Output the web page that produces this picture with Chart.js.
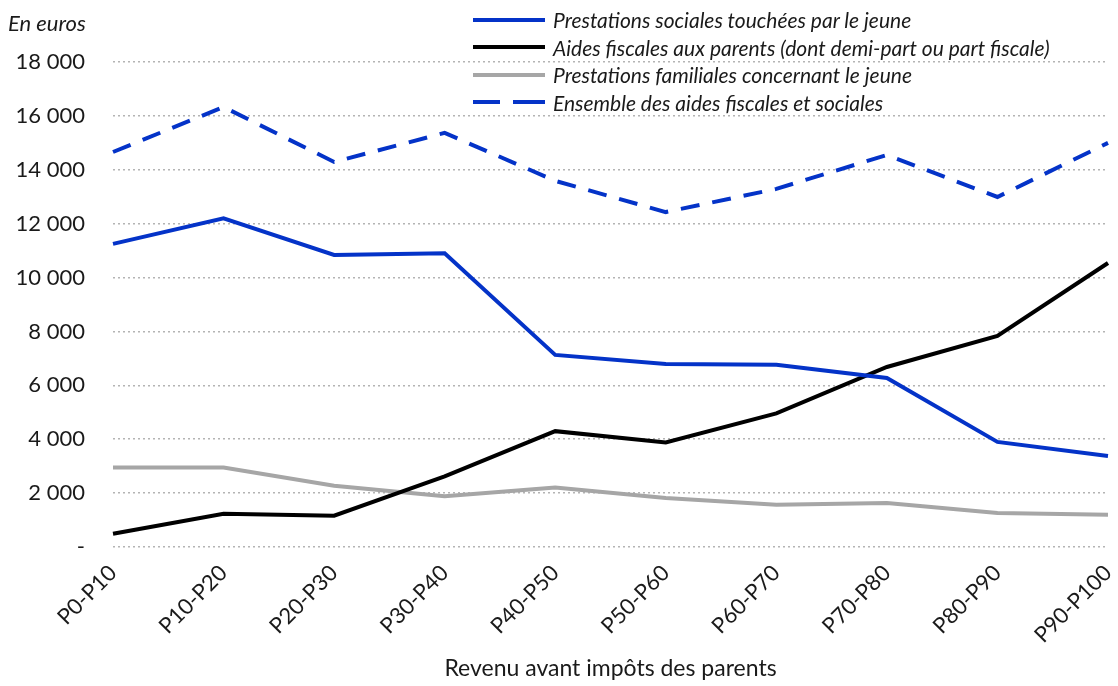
<!DOCTYPE html>
<html>
<head>
<meta charset="utf-8">
<script src="https://cdn.jsdelivr.net/npm/chart.js@4"></script>
<style>
  html, body { margin: 0; padding: 0; background: #fff; }
  #wrap { position: relative; width: 1118px; height: 686px; }
  #unit { position: absolute; left: 8px; top: 9px; font: italic 22px Lato, sans-serif; color: #1a1a1a; }
  #legend { position: absolute; left: 473px; top: 6px; font: italic 21px Lato, sans-serif; color: #1a1a1a; }
  .row { height: 27.5px; display: flex; align-items: center; }
  .sample { width: 72px; height: 4px; margin-right: 8px; position: relative; }
  .label { white-space: nowrap; }
</style>
</head>
<body>
<div id="wrap">
  <canvas id="chart" width="1118" height="686"></canvas>
  <div id="unit">En euros</div>
  <div id="legend"></div>
</div>
<script>
const categories = ['P0-P10', 'P10-P20', 'P20-P30', 'P30-P40', 'P40-P50', 'P50-P60', 'P60-P70', 'P70-P80', 'P80-P90', 'P90-P100']

const prestations_jeune = [11250, 12200, 10840, 10900, 7130, 6790, 6760, 6270, 3900, 3380]
const aides_fiscales = [490, 1230, 1160, 2620, 4300, 3880, 4960, 6680, 7830, 10540]
const prestations_familiales = [2950, 2950, 2270, 1880, 2210, 1815, 1570, 1630, 1260, 1200]
const ensemble = [14660, 16330, 14290, 15370, 13590, 12430, 13290, 14550, 12990, 15000]

const blue = '#0433c8'
const grey = '#a6a6a6'

const fmt = v => v === 0 ? '-' : String(v).replace(/\B(?=(\d{3})+(?!\d))/g, ' ')

const datasets = [{
    label: 'Prestations sociales touchées par le jeune',
    data: prestations_jeune,
    borderColor: blue
}, {
    label: 'Aides fiscales aux parents (dont demi-part ou part fiscale)',
    data: aides_fiscales,
    borderColor: '#000'
}, {
    label: 'Prestations familiales concernant le jeune',
    data: prestations_familiales,
    borderColor: grey
}, {
    label: 'Ensemble des aides fiscales et sociales',
    data: ensemble,
    borderColor: blue,
    borderDash: [19, 13]
}]

const config = {
    type: 'line',
    data: {
        labels: categories,
        datasets: datasets.map(d => Object.assign({ pointRadius: 0, tension: 0, fill: false, borderWidth: 4 }, d))
    },
    options: {
        responsive: false,
        animation: false,
        devicePixelRatio: 1,
        layout: {
            padding: { top: 62, right: 10, left: 0, bottom: 0 }
        },
        scales: {
            x: {
                offset: false,
                grid: { display: false },
                border: { display: false },
                afterFit: scale => {
                    scale.height = 686 - 547
                    scale.paddingLeft = 0
                    scale.paddingRight = 0
                },
                ticks: {
                    color: '#1a1a1a',
                    font: { family: 'Lato', size: 22 },
                    maxRotation: 45,
                    minRotation: 45,
                    padding: 5
                },
                title: {
                    display: true,
                    text: 'Revenu avant impôts des parents',
                    color: '#1a1a1a',
                    font: { family: 'Lato', size: 23 },
                    padding: { top: 0, bottom: 4 }
                }
            },
            y: {
                min: 0,
                max: 18000,
                border: { display: false, dash: [2, 3] },
                grid: {
                    color: '#b4b4b4',
                    lineWidth: 1.5,
                    drawTicks: false
                },
                afterFit: scale => { scale.width = 113 },
                ticks: {
                    stepSize: 2000,
                    color: '#1a1a1a',
                    font: { family: 'Lato', size: 22 },
                    padding: 28,
                    callback: v => fmt(v)
                }
            }
        },
        plugins: {
            legend: { display: false },
            tooltip: { enabled: false }
        }
    }
}

new Chart(document.getElementById('chart'), config)

// html legend built from the datasets
const legend = document.getElementById('legend')
datasets.forEach(d => {
    const row = document.createElement('div')
    row.className = 'row'
    const sample = document.createElement('div')
    sample.className = 'sample'
    if (d.borderDash) {
        sample.style.background = `linear-gradient(to right, ${d.borderColor} 0 27px, transparent 27px 40px, ${d.borderColor} 40px 72px)`
    } else {
        sample.style.background = d.borderColor
    }
    const label = document.createElement('span')
    label.className = 'label'
    label.textContent = d.label
    row.appendChild(sample)
    row.appendChild(label)
    legend.appendChild(row)
})
</script>
</body>
</html>
